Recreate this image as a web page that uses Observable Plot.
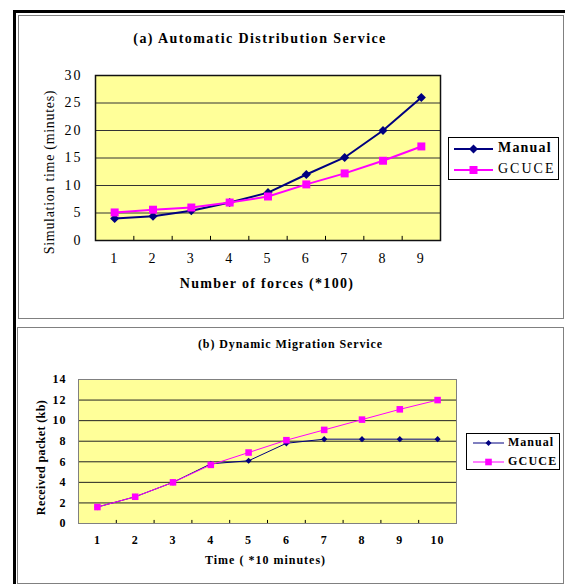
<!DOCTYPE html>
<html><head><meta charset="utf-8">
<script src="https://cdn.jsdelivr.net/npm/d3@7"></script>
<script src="https://cdn.jsdelivr.net/npm/@observablehq/plot@0.6"></script>
<style>
body{margin:0;background:#fff;font-family:"Liberation Serif",serif;}
#page{position:relative;width:565px;height:584px;overflow:hidden;background:#fff;}
.bar{position:absolute;background:#000;}
.box{position:absolute;border:1px solid #808080;box-sizing:border-box;}
.legend{position:absolute;border:1px solid #000;background:#fff;box-sizing:border-box;}
.legend svg{position:absolute;left:0;top:0;}
.lt{position:absolute;line-height:1;white-space:nowrap;color:#000;}
</style></head><body>
<div id="page">
  <div class="bar" style="left:13px;top:10px;width:552px;height:3px;"></div>
  <div class="bar" style="left:13px;top:10px;width:3px;height:574px;"></div>
  <div class="box" style="left:18px;top:15px;width:546px;height:304px;"></div>
  <div class="box" style="left:17px;top:327px;width:547px;height:257px;"></div>
</div>
<script>
// ---- Data: chart (a) ----
const forces = [1, 2, 3, 4, 5, 6, 7, 8, 9];
const manualA = [4.0, 4.4, 5.4, 6.9, 8.7, 12.0, 15.1, 20.0, 26.0];
const gcuceA  = [5.1, 5.6, 6.0, 6.9, 8.0, 10.2, 12.2, 14.5, 17.1];
const yTicksA = [0, 5, 10, 15, 20, 25, 30];
const titleA = "(a) Automatic Distribution Service";
const xTitleA = "Number of forces (*100)";
const yTitleA = "Simulation time (minutes)";

// ---- Data: chart (b) ----
const times = [1, 2, 3, 4, 5, 6, 7, 8, 9, 10];
const manualB = [1.6, 2.6, 4.0, 5.8, 6.1, 7.8, 8.2, 8.2, 8.2, 8.2];
const gcuceB  = [1.6, 2.6, 4.0, 5.7, 6.9, 8.1, 9.1, 10.1, 11.1, 12.0];
const yTicksB = [0, 2, 4, 6, 8, 10, 12, 14];
const titleB = "(b) Dynamic Migration Service";
const xTitleB = "Time ( *10 minutes)";
const yTitleB = "Received packet (kb)";

const seriesNames = ["Manual", "GCUCE"];
const NAVY = "#000080", MAG = "#FF00FF";

const toRows = (xs, ys) => xs.map((x, i) => ({x, y: ys[i]}));
const mA = toRows(forces, manualA), gA = toRows(forces, gcuceA);
const mB = toRows(times, manualB), gB = toRows(times, gcuceB);
const boundsA = forces.slice(0, -1).map(d => d + 0.5);
const boundsB = times.slice(0, -1).map(d => d + 0.5);

const page = document.getElementById("page");

function styleTexts(svg, spec) {
  // spec: list of {sel, size, weight, ls}
  spec.forEach(s => {
    d3.select(svg).selectAll(s.sel).each(function () {
      if (s.match && this.textContent !== s.match) return;
      this.style.fontSize = s.size + "px";
      this.style.fontWeight = s.weight;
      this.style.letterSpacing = s.ls + "px";
    });
  });
}

const chartA = Plot.plot({
  width: 565, height: 320,
  marginTop: 75, marginBottom: 80, marginLeft: 95, marginRight: 125,
  style: {fontFamily: "Liberation Serif", fontSize: "13px", background: "transparent", color: "#000", overflow: "visible"},
  x: {domain: [0.5, 9.5]},
  y: {domain: [0, 30]},
  marks: [
    Plot.frame({fill: "#FFFF99", stroke: null}),
    Plot.ruleY(yTicksA.slice(1, -1), {stroke: "#333", strokeWidth: 1}),
    Plot.ruleX(boundsA, {x: d => d, y1: 0, y2: 0.75, stroke: "#000"}),
    Plot.frame({stroke: "#111", strokeWidth: 1.5}),
    Plot.axisX(forces, {tickSize: 0, tickPadding: 13, label: null}),
    Plot.axisY(yTicksA, {tickSize: 0, tickPadding: 13, label: null}),
    Plot.line(mA, {x: "x", y: "y", stroke: NAVY, strokeWidth: 2}),
    Plot.dot(mA, {x: "x", y: "y", symbol: "diamond2", r: 4.1, fill: NAVY, stroke: "none"}),
    Plot.line(gA, {x: "x", y: "y", stroke: MAG, strokeWidth: 2}),
    Plot.dot(gA, {x: "x", y: "y", symbol: "square", r: 4.5, fill: MAG, stroke: "none"}),
    Plot.text([titleA], {text: d => d, frameAnchor: "top", textAnchor: "middle", lineAnchor: "middle", dy: -37, dx: -8}),
    Plot.text([xTitleA], {text: d => d, frameAnchor: "bottom", textAnchor: "middle", lineAnchor: "middle", dy: 43, dx: -1}),
    Plot.text([yTitleA], {text: d => d, frameAnchor: "left", textAnchor: "middle", lineAnchor: "middle", rotate: -90, dx: -46, dy: 14})
  ]
});
styleTexts(chartA, [
  {sel: "g[aria-label='x-axis tick label'] text", size: 14, weight: "normal", ls: 2},
  {sel: "g[aria-label='y-axis tick label'] text", size: 14, weight: "normal", ls: 2},
  {sel: "text", match: titleA, size: 14, weight: "bold", ls: 1.4},
  {sel: "text", match: xTitleA, size: 14, weight: "bold", ls: 1.3},
  {sel: "text", match: yTitleA, size: 14, weight: "normal", ls: 0.7}
]);
chartA.style.position = "absolute"; chartA.style.left = "0px"; chartA.style.top = "0px";
page.appendChild(chartA);

const chartB = Plot.plot({
  width: 565, height: 264,
  marginTop: 59, marginBottom: 61, marginLeft: 78, marginRight: 109,
  style: {fontFamily: "Liberation Serif", fontSize: "11px", background: "transparent", color: "#000", overflow: "visible"},
  x: {domain: [0.5, 10.5]},
  y: {domain: [0, 14]},
  marks: [
    Plot.frame({fill: "#FFFF99", stroke: null}),
    Plot.ruleY(yTicksB.slice(1, -1), {stroke: "#222", strokeWidth: 1}),
    Plot.ruleX(boundsB, {x: d => d, y1: 0, y2: 0.3, stroke: "#000"}),
    Plot.frame({stroke: "#808080", strokeWidth: 1}),
    Plot.axisX(times, {tickSize: 0, tickPadding: 12, label: null}),
    Plot.axisY(yTicksB, {tickSize: 0, tickPadding: 12, label: null}),
    Plot.line(mB, {x: "x", y: "y", stroke: NAVY, strokeWidth: 1}),
    Plot.dot(mB, {x: "x", y: "y", symbol: "diamond2", r: 2.8, fill: NAVY, stroke: "none"}),
    Plot.line(gB, {x: "x", y: "y", stroke: MAG, strokeWidth: 1}),
    Plot.dot(gB, {x: "x", y: "y", symbol: "square", r: 3.7, fill: MAG, stroke: "none"}),
    Plot.text([titleB], {text: d => d, frameAnchor: "top", textAnchor: "middle", lineAnchor: "middle", dy: -35, dx: 23}),
    Plot.text([xTitleB], {text: d => d, frameAnchor: "bottom", textAnchor: "middle", lineAnchor: "middle", dy: 37, dx: -2}),
    Plot.text([yTitleB], {text: d => d, frameAnchor: "left", textAnchor: "middle", lineAnchor: "middle", rotate: -90, dx: -37, dy: 6})
  ]
});
styleTexts(chartB, [
  {sel: "g[aria-label='x-axis tick label'] text", size: 12, weight: "bold", ls: 1},
  {sel: "g[aria-label='y-axis tick label'] text", size: 12, weight: "bold", ls: 1},
  {sel: "text", match: titleB, size: 12, weight: "bold", ls: 0.9},
  {sel: "text", match: xTitleB, size: 12, weight: "bold", ls: 1},
  {sel: "text", match: yTitleB, size: 12, weight: "bold", ls: 0.4}
]);
chartB.style.position = "absolute"; chartB.style.left = "0px"; chartB.style.top = "320px";
page.appendChild(chartB);

// ---- Legends (HTML) ----
function legend(left, top, w, h, cfg) {
  const div = document.createElement("div");
  div.className = "legend";
  Object.assign(div.style, {left: left + "px", top: top + "px", width: w + "px", height: h + "px"});
  const ns = "http://www.w3.org/2000/svg";
  const svg = document.createElementNS(ns, "svg");
  svg.setAttribute("width", w); svg.setAttribute("height", h);
  cfg.rows.forEach((row) => {
    const y = row.y;
    const line = document.createElementNS(ns, "line");
    line.setAttribute("x1", cfg.x1); line.setAttribute("x2", cfg.x2);
    line.setAttribute("y1", y); line.setAttribute("y2", y);
    line.setAttribute("stroke", row.color); line.setAttribute("stroke-width", cfg.sw);
    svg.appendChild(line);
    const cx = (cfg.x1 + cfg.x2) / 2;
    const p = document.createElementNS(ns, "path");
    const s = row.size;
    if (row.shape === "diamond") p.setAttribute("d", `M${cx},${y - s}L${cx + s},${y}L${cx},${y + s}L${cx - s},${y}Z`);
    else p.setAttribute("d", `M${cx - s},${y - s}H${cx + s}V${y + s}H${cx - s}Z`);
    p.setAttribute("fill", row.color);
    svg.appendChild(p);
    const t = document.createElement("div");
    t.className = "lt";
    t.textContent = row.label;
    Object.assign(t.style, {left: cfg.tx + "px", top: (y - row.fs * 0.5 - 1) + "px", fontSize: row.fs + "px", fontWeight: row.fw, letterSpacing: row.ls + "px"});
    div.appendChild(t);
  });
  div.insertBefore(svg, div.firstChild);
  page.appendChild(div);
}
legend(448, 137, 111, 43, {x1: 5, x2: 44, sw: 2, tx: 49, rows: [
  {label: seriesNames[0], color: NAVY, shape: "diamond", size: 4.5, y: 11, fs: 14, fw: "bold", ls: 1.2},
  {label: seriesNames[1], color: MAG, shape: "square", size: 4, y: 32, fs: 14, fw: "normal", ls: 2}
]});
legend(466, 433, 94, 37, {x1: 6, x2: 37, sw: 1, tx: 41, rows: [
  {label: seriesNames[0], color: NAVY, shape: "diamond", size: 3, y: 9, fs: 12, fw: "bold", ls: 1},
  {label: seriesNames[1], color: MAG, shape: "square", size: 3.3, y: 28, fs: 12, fw: "bold", ls: 1.2}
]});
</script>
</body></html>
